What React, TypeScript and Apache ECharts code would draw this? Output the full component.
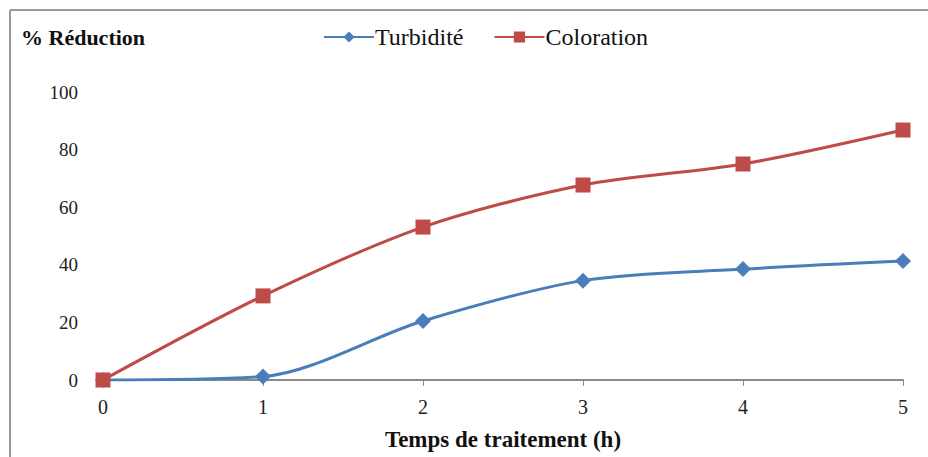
import React, { useEffect, useRef } from "react";
import * as echarts from "echarts";

const categories = ["0", "1", "2", "3", "4", "5"];
const turbidite = [0, 1.2, 20.5, 34.5, 38.5, 41.3];
const coloration = [0, 29.2, 53.1, 67.7, 75, 86.8];

export default function App() {
  const ref = useRef<HTMLDivElement>(null);
  useEffect(() => {
    if (!ref.current) return;
    const chart = echarts.init(ref.current, null, { renderer: "svg" });
    const font = "'Liberation Serif', 'Times New Roman', serif";
    chart.setOption({
      animation: false,
      backgroundColor: "#ffffff",
      textStyle: { fontFamily: font },
      grid: { left: 103, right: 25, top: 92, bottom: 77, outerBoundsMode: "none", containLabel: false },
      title: {
        text: "% Réduction",
        left: 16,
        top: 21,
        textStyle: { fontFamily: font, fontSize: 22, fontWeight: "bold", color: "#111" },
      },
      legend: {
        top: 20,
        left: 318,
        itemWidth: 50,
        itemHeight: 14,
        itemGap: 30,
        textStyle: { fontFamily: font, fontSize: 24, color: "#111", padding: [0, 0, 0, -4] },
        data: ["Turbidité", "Coloration"],
      },
      xAxis: {
        type: "category",
        data: categories,
        boundaryGap: false,
        name: "Temps de traitement (h)",
        nameLocation: "middle",
        nameGap: 48,
        nameTextStyle: { fontFamily: font, fontSize: 23, fontWeight: "bold", color: "#111" },
        axisLine: { lineStyle: { color: "#8a8a8a", width: 2 } },
        axisTick: { show: true, length: 6, lineStyle: { color: "#8a8a8a", width: 1 } },
        axisLabel: { fontFamily: font, fontSize: 20, color: "#222", margin: 17 },
        splitLine: { show: false },
      },
      yAxis: {
        type: "value",
        min: 0,
        max: 100,
        interval: 20,
        axisLine: { show: false },
        axisTick: { show: false },
        axisLabel: { fontFamily: font, fontSize: 19, color: "#222", margin: 25 },
        splitLine: { show: false },
      },
      graphic: [
        { type: "line", shape: { x1: 10, y1: 10, x2: 928, y2: 10 }, style: { stroke: "#9a9a9a", lineWidth: 2 } },
        { type: "line", shape: { x1: 10, y1: 10, x2: 10, y2: 457 }, style: { stroke: "#9a9a9a", lineWidth: 2 } },
      ],
      series: [
        {
          name: "Turbidité",
          type: "line",
          data: turbidite,
          smooth: 0.3,
          symbol: "diamond",
          symbolSize: 16,
          lineStyle: { color: "#4a7ebb", width: 3 },
          itemStyle: { color: "#4a7ebb" },
        },
        {
          name: "Coloration",
          type: "line",
          data: coloration,
          smooth: 0.3,
          symbol: "rect",
          symbolSize: 15,
          lineStyle: { color: "#be4b48", width: 3 },
          itemStyle: { color: "#be4b48" },
        },
      ],
    });
    return () => chart.dispose();
  }, []);
  return (
    <div
      ref={ref}
      style={{ position: "fixed", left: 0, top: 0, width: 928, height: 457 }}
    />
  );
}
